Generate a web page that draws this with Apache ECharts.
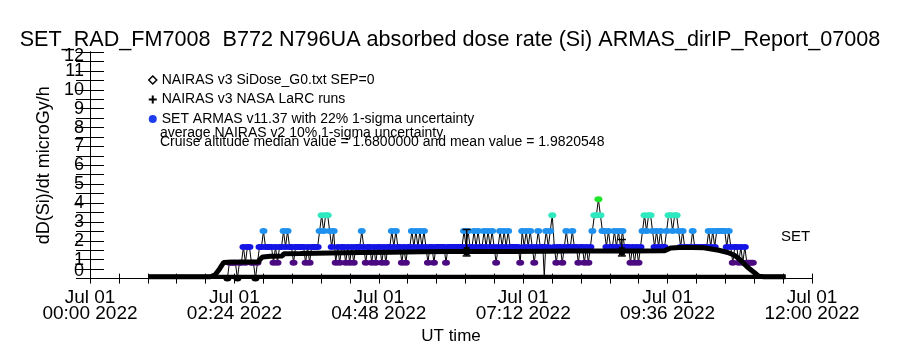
<!DOCTYPE html>
<html>
<head>
<meta charset="utf-8">
<script src="https://cdn.jsdelivr.net/npm/echarts@6/dist/echarts.min.js"></script>
<style>html,body{margin:0;padding:0;background:#fff}#c{width:900px;height:350px}</style>
</head>
<body>
<div id="c"></div>
<script>
// ---------- data ----------
const xTickLabels = ['Jul 01\n00:00 2022','Jul 01\n02:24 2022','Jul 01\n04:48 2022','Jul 01\n07:12 2022','Jul 01\n09:36 2022','Jul 01\n12:00 2022'];
const yTickLabels = ['0','1','2','3','4','5','6','7','8','9','10','11','12'];

// NAIRAS v3 SiDose (hours UT, microGy/h)
const nairasHours  = [0.98,2.00,2.08,2.15,2.22,2.30,2.55,2.80,2.82,2.87,3.00,3.20,3.22,3.50,4.00,4.50,5.00,5.50,6.00,6.50,7.00,7.53,7.55,7.57,8.00,8.50,9.00,9.55,9.65,9.80,10.00,10.20,10.45,10.60,10.72,10.82,10.93,11.05,11.12,11.20,11.56];
const nairasValues = [0.10,0.10,0.20,0.50,0.85,0.87,0.88,0.88,1.00,1.15,1.18,1.20,1.32,1.33,1.36,1.38,1.40,1.42,1.43,1.43,1.44,1.45,0.10,1.45,1.46,1.46,1.46,1.47,1.62,1.65,1.65,1.63,1.50,1.38,1.22,0.95,0.60,0.30,0.12,0.10,0.10];
const nairasDropoutHours = [7.55];

// NAIRAS v3 NASA LaRC runs
const larcLineHours  = [0.98, 11.56];
const larcLineValues = [0.10, 0.10];
const larcPtHours  = [6.26, 8.84];
const larcPtValues = [1.45, 1.45];
const larcPtLow    = [1.20, 1.20];
const larcPtHigh   = [2.60, 2.07];

// SET ARMAS: quantised levels, one character per sample (2-minute cadence from 02:17 UT)
const setStartMin = 137;
const setStepMin = 2;
const setLevelValues = [0, 0.84, 1.68, 2.52, 3.36, 4.20];
const setLevels =
  '0111101121' + '2211012232' + '2221212232' + '3221222221' + '2122223434' +
  '4323121221' + '2121222321' + '2212122121' + '2232322121' + '2232323232' +
  '1221222221' + '2222222232' + '3223232232' + '3232123232' + '3222221323' +
  '2321232223' + '2342122123' + '2232212212' + '1234454332' + '3223232322' +
  '2121212343' + '4432323223' + '4434432322' + '2232222222' + '3232333332' +
  '3212212121' + '111';

// ---------- styling ----------
const levelColors = ['#000000', '#4c0a80', '#1414e6', '#1e90f0', '#2ee8c0', '#1ee628'];
const FONT = 'Liberation Sans';
const nameNairas = 'NAIRAS v3 SiDose_G0.txt SEP=0';
const nameLarc = 'NAIRAS v3 NASA LaRC runs';
const nameSet = 'SET ARMAS v11.37 with 22% 1-sigma uncertainty';

const nairasAll = nairasHours.map((h, i) => [h, nairasValues[i]]);
const nairasBand = nairasAll.filter(p => nairasDropoutHours.indexOf(p[0]) < 0);
const setData = setLevels.split('').map((c, i) => {
  const k = +c;
  return { value: [(setStartMin + setStepMin * i) / 60, setLevelValues[k]], itemStyle: { color: levelColors[k] } };
});
const larcLine = larcLineHours.map((h, i) => [h, larcLineValues[i]]);
const larcPts = larcPtHours.map((h, i) => [h, larcPtValues[i], larcPtLow[i], larcPtHigh[i]]);

const axisCommon = {
  type: 'value', min: 0, max: 12,
  axisLine: { show: true, lineStyle: { color: '#000', width: 1 } },
  splitLine: { show: false }
};

const chart = echarts.init(document.getElementById('c'), null, { renderer: 'canvas' });
chart.setOption({
  animation: false,
  backgroundColor: '#fff',
  title: {
    text: 'SET_RAD_FM7008  B772 N796UA absorbed dose rate (Si) ARMAS_dirIP_Report_07008',
    left: 'center', top: 24,
    textStyle: { fontFamily: FONT, fontSize: 21.6, fontWeight: 'normal', color: '#000' }
  },
  grid: { left: 90, top: 52, width: 722, height: 227 },
  legend: {
    orient: 'vertical', left: 143, top: 67, itemWidth: 8, itemHeight: 8, itemGap: 3.5,
    selectedMode: false,
    textStyle: { fontFamily: FONT, fontSize: 14, color: '#000', lineHeight: 16 },
    data: [
      { name: nameNairas, icon: 'diamond', itemStyle: { color: '#fff', borderColor: '#000', borderWidth: 1.5 } },
      { name: nameLarc, icon: 'path://M3,0H5V3H8V5H5V8H3V5H0V3H3Z', itemStyle: { color: '#000' } },
      { name: nameSet, icon: 'circle', itemStyle: { color: '#1f3cf0' } }
    ]
  },
  graphic: [
    { type: 'text', left: 160, top: 126, style: { text: 'average NAIRAS v2 10% 1-sigma uncertainty', fill: '#000', font: '14px ' + FONT } },
    { type: 'text', left: 160, top: 135, style: { text: 'Cruise altitude median value = 1.6800000 and mean value = 1.9820548', fill: '#000', font: '14px ' + FONT } },
    { type: 'text', left: 781, top: 229, style: { text: 'SET', fill: '#000', font: '15px ' + FONT } }
  ],
  xAxis: [
    Object.assign({}, axisCommon, {
      position: 'bottom', interval: 0.48,
      axisTick: { show: true, inside: true, length: 5, lineStyle: { color: '#000' } },
      axisLabel: {
        color: '#000', fontFamily: FONT, fontSize: 19, lineHeight: 16, margin: 11,
        formatter: v => { const k = v / 2.4, r = Math.round(k); return Math.abs(k - r) < 1e-6 ? xTickLabels[r] : ''; }
      },
      name: 'UT time', nameLocation: 'middle', nameGap: 47,
      nameTextStyle: { color: '#000', fontFamily: FONT, fontSize: 17 }
    }),
    Object.assign({}, axisCommon, {
      position: 'top', interval: 0.48,
      axisTick: { show: true, inside: true, length: 5, lineStyle: { color: '#000' } },
      axisLabel: { show: false }
    })
  ],
  yAxis: [
    Object.assign({}, axisCommon, {
      position: 'left', interval: 0.5,
      axisTick: { show: true, inside: true, length: 14, lineStyle: { color: '#000' } },
      axisLabel: {
        color: '#000', fontFamily: FONT, fontSize: 18, margin: 6,
        formatter: v => {
          if (!Number.isInteger(v)) return '';
          if (v === 0) return '{lo|' + yTickLabels[v] + '}';
          if (v === 12) return '{hi|' + yTickLabels[v] + '}';
          return yTickLabels[v];
        },
        rich: {
          lo: { fontFamily: FONT, fontSize: 18, color: '#000', padding: [0, 0, 16, 0] },
          hi: { fontFamily: FONT, fontSize: 18, color: '#000', padding: [8, 0, 0, 0] }
        }
      },
      name: 'dD(Si)/dt microGy/h', nameLocation: 'middle', nameGap: 34,
      nameTextStyle: { color: '#000', fontFamily: FONT, fontSize: 18 }
    }),
    Object.assign({}, axisCommon, {
      position: 'right', interval: 0.5,
      axisTick: { show: true, inside: true, length: 14, lineStyle: { color: '#000' } },
      axisLabel: { show: false }
    })
  ],
  series: [
    {
      name: nameSet, type: 'line', data: setData, z: 2,
      symbol: 'circle', symbolSize: [8, 6], showAllSymbol: true,
      lineStyle: { color: '#000', width: 1 },
      itemStyle: { borderWidth: 0 },
      emphasis: { disabled: true }, silent: true
    },
    {
      name: nameNairas + ' line', type: 'line', data: nairasAll, z: 3,
      symbol: 'none', lineStyle: { color: '#000', width: 1 }, silent: true
    },
    {
      name: nameNairas, type: 'line', data: nairasBand, z: 3,
      symbol: 'none', lineStyle: { color: '#000', width: 5 }, itemStyle: { color: '#000' }, silent: true
    },
    {
      name: nameLarc + ' base', type: 'line', data: larcLine, z: 3,
      symbol: 'none', lineStyle: { color: '#000', width: 4 }, silent: true
    },
    {
      name: nameLarc, type: 'custom', z: 4, data: larcPts, silent: true,
      itemStyle: { color: '#000' },
      renderItem: function (params, api) {
        const p = api.coord([api.value(0), api.value(1)]);
        const lo = api.coord([api.value(0), api.value(2)]);
        const hi = api.coord([api.value(0), api.value(3)]);
        const st = { stroke: '#000', lineWidth: 1.5 };
        return {
          type: 'group', children: [
            { type: 'line', shape: { x1: lo[0], y1: lo[1], x2: hi[0], y2: hi[1] }, style: st },
            { type: 'line', shape: { x1: hi[0] - 4, y1: hi[1], x2: hi[0] + 4, y2: hi[1] }, style: st },
            { type: 'line', shape: { x1: lo[0] - 4, y1: lo[1], x2: lo[0] + 4, y2: lo[1] }, style: st },
            { type: 'rect', shape: { x: p[0] - 3, y: p[1] - 4, width: 6, height: 8 }, style: { fill: '#000' } }
          ]
        };
      }
    }
  ]
});
</script>
</body>
</html>
